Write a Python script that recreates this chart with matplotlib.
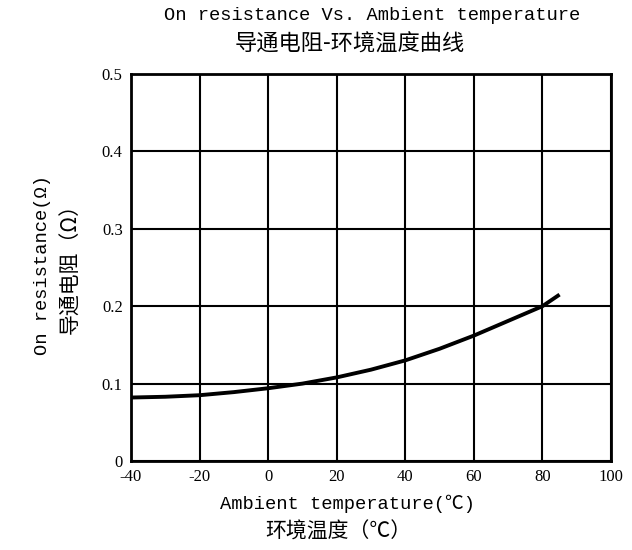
import numpy as np
import matplotlib
matplotlib.use('Agg')
import matplotlib.pyplot as plt

plt.rcParams['axes.unicode_minus'] = False

# curve
temp_c = [-40, -30, -20, -10, 0, 10, 20, 30, 40, 50, 60, 70, 80, 85]
r_on = [0.082, 0.083, 0.085, 0.089, 0.094, 0.100, 0.108, 0.118, 0.130, 0.145, 0.162, 0.181, 0.200, 0.215]

x_ticks = [-40, -20, 0, 20, 40, 60, 80, 100]
y_ticks = [0, 0.1, 0.2, 0.3, 0.4, 0.5]
y_tick_labels = ['0', '0.1', '0.2', '0.3', '0.4', '0.5']

EN = ['Liberation Mono', 'Noto Sans CJK SC']
CN = ['Noto Sans CJK SC', 'DejaVu Sans']
NUM = ['Liberation Serif']

fig = plt.figure(figsize=(6.32, 5.5), dpi=100)
W, H = 632, 550
ax = fig.add_axes([131 / W, 1 - 461 / H, 480 / W, 387 / H])

ax.plot(temp_c, r_on, color='black', lw=2.8, solid_capstyle='butt', zorder=3)

ax.set_xlim(-40, 100)
ax.set_ylim(0, 0.5)
ax.set_xticks(x_ticks)
ax.set_xticklabels([str(t) for t in x_ticks])
ax.set_yticks(y_ticks)
ax.set_yticklabels(y_tick_labels)
ax.grid(True, color='black', lw=1.5)
ax.tick_params(length=0, pad=6)
for lab in ax.get_xticklabels() + ax.get_yticklabels():
    lab.set_family(NUM)
    lab.set_fontsize(12)
for sp in ax.spines.values():
    sp.set_linewidth(2)
    sp.set_color('black')

# titles and axis labels
fig.text(372 / W, 1 - 16 / H, 'On resistance Vs. Ambient temperature',
         family=EN, fontsize=13.5, ha='center', va='center')
fig.text(350 / W, 1 - 44 / H, '导通电阻-环境温度曲线',
         family=CN, fontsize=16, ha='center', va='center')

fig.text(347 / W, 1 - 504 / H, 'Ambient temperature(℃)',
         family=EN, fontsize=13.5, ha='center', va='center')
fig.text(338 / W, 1 - 532 / H, '环境温度（℃）',
         family=CN, fontsize=15, ha='center', va='center')

fig.text(43 / W, 1 - 265 / H, 'On resistance(Ω)',
         family=EN, fontsize=13.5, ha='center', va='center', rotation=90)
fig.text(70 / W, 1 - 264 / H, '导通电阻（Ω）',
         family=CN, fontsize=15, ha='center', va='center', rotation=90)

fig.savefig('out.png', dpi=100, facecolor='white')
